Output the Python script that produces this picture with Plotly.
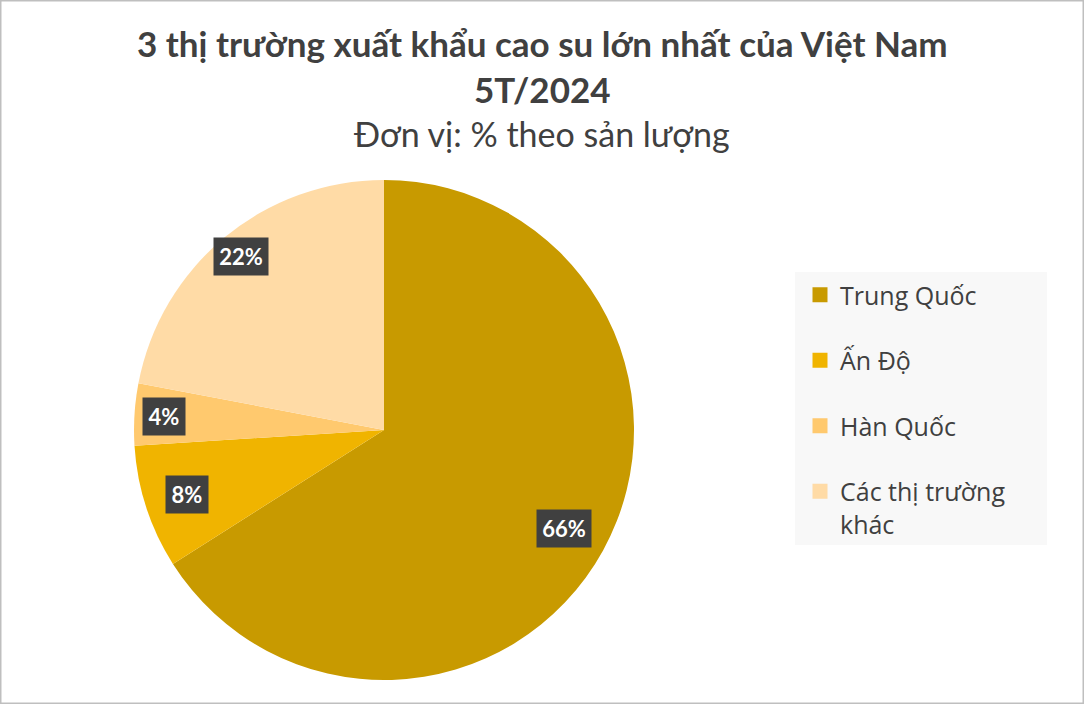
import math
import plotly.graph_objects as go

# ---- data ----
categories = ["Trung Quốc", "Ấn Độ", "Hàn Quốc", "Các thị trường khác"]
legend_labels = ["Trung Quốc", "Ấn Độ", "Hàn Quốc", "Các thị trường<br>khác"]
shares = [66, 8, 4, 22]
label_texts = ["66%", "8%", "4%", "22%"]
colors = ["#C89A00", "#F0B400", "#FFC96E", "#FFDBA6"]

W, H = 1084, 704
# pie geometry (pixels)
CX, CY, R = 384, 430, 250
label_radius = [0.82, 0.83, 0.88, 0.9]

fig = go.Figure()
fig.add_trace(go.Pie(
    labels=categories, values=shares, sort=False, direction="clockwise",
    rotation=0, marker=dict(colors=colors, line=dict(width=0)),
    textinfo="none", hoverinfo="skip", showlegend=False,
    domain=dict(x=[(CX - R) / W, (CX + R) / W], y=[1 - (CY + R) / H, 1 - (CY - R) / H]),
))

# legend via dummy traces
for lab, col in zip(legend_labels, colors):
    fig.add_trace(go.Scatter(
        x=[None], y=[None], mode="markers", name=lab, legendgroup=lab,
        marker=dict(symbol="square", size=15, color=col), hoverinfo="skip",
    ))

# data labels with dark boxes, positioned from the data
shapes = [
    dict(type="rect", xref="paper", yref="paper", x0=795 / W, x1=1047 / W,
         y0=1 - 545 / H, y1=1 - 272 / H, fillcolor="#F8F8F8", line=dict(width=0), layer="below"),
    dict(type="rect", xref="paper", yref="paper", x0=0, x1=1, y0=0, y1=1,
         line=dict(color="#BFBFBF", width=3)),
]
total = sum(shares)
cum = 0
for v, t, rr in zip(shares, label_texts, label_radius):
    mid = (cum + v / 2) / total * 2 * math.pi
    cum += v
    px = CX + rr * R * math.sin(mid)
    py = CY - rr * R * math.cos(mid)
    bw = 12 * len(t) + 10
    bh = 29
    # shadow
    shapes.append(dict(
        type="rect", xref="paper", yref="paper", layer="above",
        x0=(px - bw / 2 + 3) / W, x1=(px + bw / 2 + 3) / W,
        y0=1 - (py + bh / 2 + 3) / H, y1=1 - (py - bh / 2 + 3) / H,
        fillcolor="rgba(0,0,0,0.22)", line=dict(width=0),
    ))
    fig.add_annotation(
        x=px / W, y=1 - py / H, xref="paper", yref="paper",
        xanchor="center", yanchor="middle", width=bw, height=bh,
        text=f"<b>{t}</b>", showarrow=False, bgcolor="#404040", borderpad=4,
        font=dict(family="Lato", size=22, color="white"),
    )

fig.add_annotation(
    x=0.5, y=1 - 66 / H, xref="paper", yref="paper", showarrow=False,
    xanchor="center", yanchor="middle",
    text="<b>3 thị trường xuất khẩu cao su lớn nhất của Việt Nam<br>5T/2024</b>",
    font=dict(family="Lato", size=35, color="#404040"), align="center",
)
fig.add_annotation(
    x=0.5, y=1 - 133 / H, xref="paper", yref="paper", showarrow=False,
    xanchor="center", yanchor="middle",
    text="Đơn vị: % theo sản lượng",
    font=dict(family="Lato", size=34, color="#404040"),
)

fig.update_layout(
    width=W, height=H, margin=dict(l=0, r=0, t=0, b=0),
    paper_bgcolor="white", plot_bgcolor="rgba(0,0,0,0)",
    xaxis=dict(visible=False), yaxis=dict(visible=False),
    legend=dict(
        x=800 / W, y=1 - 272 / H, xanchor="left", yanchor="top",
        font=dict(family="Open Sans", size=25, color="#404040"),
        bgcolor="rgba(0,0,0,0)", tracegroupgap=30, valign="top",
        itemwidth=30,
    ),
    shapes=shapes,
    hovermode=False,
)

fig.write_html("out.html", config={"displayModeBar": False},
               post_script="document.body.style.margin='0px';")
